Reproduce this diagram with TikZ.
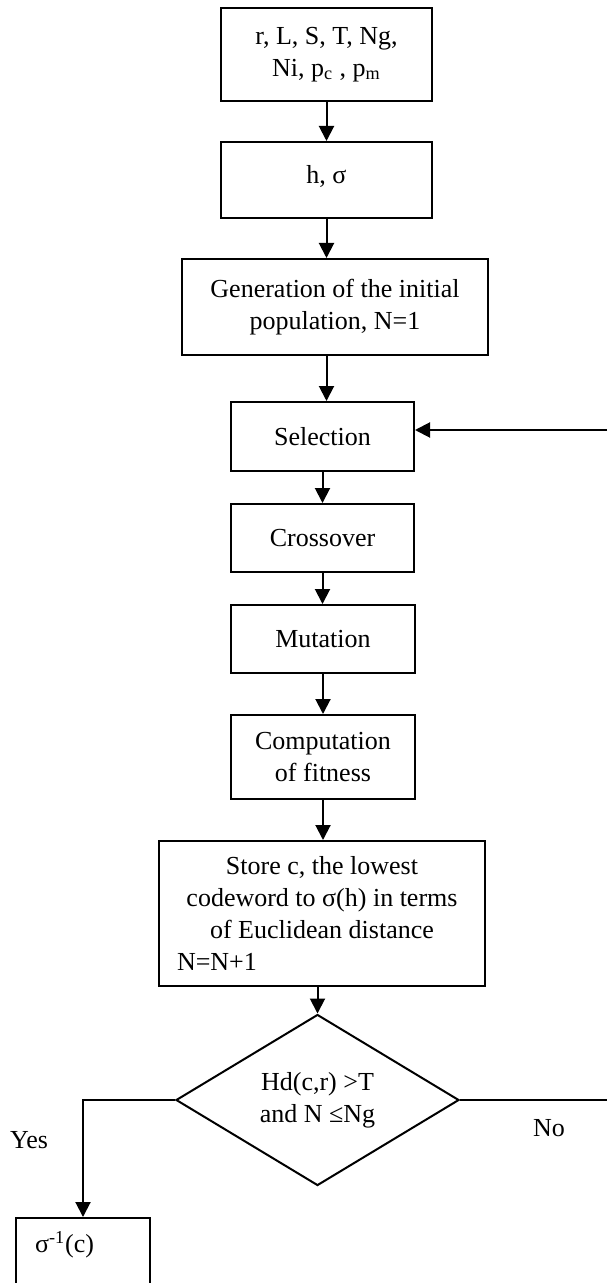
\documentclass[tikz,border=0pt]{standalone}
\usepackage{fontspec}
\setmainfont{Liberation Serif}
\usepackage{tikz}
\usetikzlibrary{shapes.geometric,arrows.meta}

\begin{document}
\begin{tikzpicture}[x=0.5pt, y=-0.5pt,
		box_style/.style={rectangle,draw=black,line width=1pt,fill=white,inner sep=0pt,align=center,font=\fontsize{13}{16}\selectfont},
		dia_style/.style={diamond,draw=black,line width=1pt,fill=white,inner sep=0pt,align=center,font=\fontsize{13}{16}\selectfont},
		label_style/.style={inner sep=0pt,font=\fontsize{13}{16}\selectfont},
		edge_style/.style={draw=black,line width=1pt,-{Triangle[length=7.5pt,width=7.5pt]}},
		line_style/.style={draw=black,line width=1pt}]
		
		\clip (0,0) rectangle (607,1283);
		
		\node[box_style,minimum width=105.5pt,minimum height=46.5pt] (b_input) at (326.5,54.5) {r, L, S, T, Ng,\\ Ni, p\textsubscript{c} , p\textsubscript{m}};
		\node[box_style,minimum width=105.5pt,minimum height=38pt,text depth=6pt] (b_hsig) at (326.5,180) {h, σ};
		\node[box_style,minimum width=153pt,minimum height=48pt] (b_gen) at (335,307) {Generation of the initial\\ population, N=1};
		\node[box_style,minimum width=91.5pt,minimum height=34.5pt] (b_sel) at (322.5,436.5) {Selection};
		\node[box_style,minimum width=91.5pt,minimum height=34pt] (b_cross) at (322.5,538) {Crossover};
		\node[box_style,minimum width=92pt,minimum height=34pt] (b_mut) at (323,639) {Mutation};
		\node[box_style,minimum width=92pt,minimum height=42pt] (b_comp) at (323,757) {Computation\\ of fitness};
		\node[box_style,minimum width=163pt,minimum height=72.5pt] (b_store) at (322,913.5) {Store c, the lowest\\ codeword to σ(h) in terms\\ of Euclidean distance\\ \makebox[145pt][l]{N=N+1}};
		\node[dia_style,minimum width=141.5pt,minimum height=75pt] (d_test) at (317.5,1100) {Hd(c,r) >T\\ and N ≤Ng};
		\node[box_style,anchor=north,minimum width=67pt,text width=48pt,align=left,inner xsep=9.5pt,inner ysep=7pt,text height=10pt,text depth=40pt] (b_inv) at (83,1217) {σ\textsuperscript{-1}(c)};
		
		\node[label_style] (l_yes) at (29,1140) {Yes};
		\node[label_style] (l_no) at (549,1128) {No};
		
		\coordinate (c_loop) at (607,430);
		\coordinate (c_no) at (607,1100);
		
		\draw[edge_style]  (b_input) edge (b_hsig);
		\draw[edge_style]  (b_hsig.south) -- (b_hsig.south |- b_gen.north);
		\draw[edge_style]  (b_gen.south -| b_hsig.south) -- (b_hsig.south |- b_sel.north);
		\draw[edge_style]  (b_sel) edge (b_cross);
		\draw[edge_style]  (b_cross.south) -- (b_cross.south |- b_mut.north);
		\draw[edge_style]  (b_mut) edge (b_comp);
		\draw[edge_style]  (b_comp.south) -- (b_comp.south |- b_store.north);
		\draw[edge_style]  (b_store.south -| d_test.north) -- (d_test.north);
		\draw[edge_style]  (c_loop) -- (c_loop -| b_sel.east);
		\draw[edge_style]  (d_test.west) -| (b_inv.north);
		\draw[line_style]  (d_test.east) -- (c_no);
		
		\end{tikzpicture}
\end{document}
